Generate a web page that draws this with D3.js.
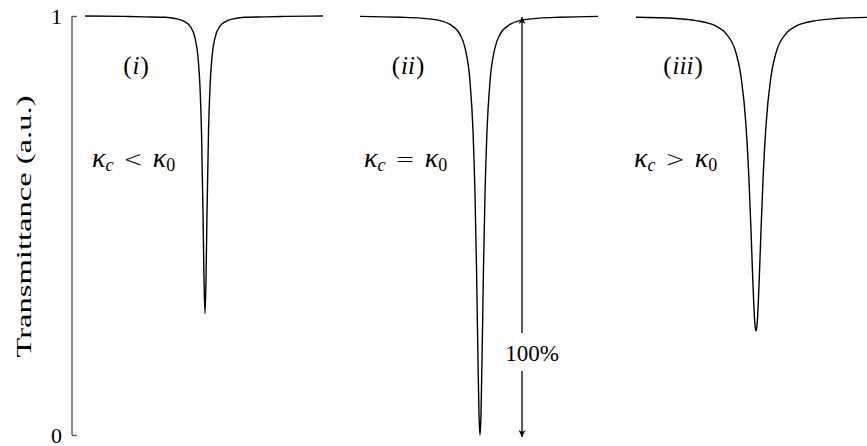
<!DOCTYPE html>
<html>
<head>
<meta charset="utf-8">
<script src="https://cdn.jsdelivr.net/npm/d3@7/dist/d3.min.js"></script>
<style>
  html, body { margin: 0; padding: 0; background: #fff; }
  svg { display: block; }
  text { font-family: "Liberation Serif", "DejaVu Serif", serif; fill: #000; }
</style>
</head>
<body>
<svg id="chart" width="867" height="446"></svg>
<script>
// Detuning from resonance (arbitrary units), shared by the three panels
const detuning = [-12, -8, -6, -4, -3, -2, -1.5, -1, -0.7, -0.5, -0.35, -0.2, -0.1, 0,
                  0.1, 0.2, 0.35, 0.5, 0.7, 1, 1.5, 2, 3, 4, 6, 8, 11.8];

// Transmittance of each coupling regime
const underCoupled = [1.000, 0.999, 0.998, 0.997, 0.994, 0.986, 0.976, 0.948, 0.902, 0.831, 0.723, 0.530, 0.370, 0.290,
                      0.370, 0.530, 0.723, 0.831, 0.902, 0.948, 0.976, 0.986, 0.994, 0.997, 0.998, 0.999, 1.000];
const criticallyCoupled = [0.999, 0.997, 0.995, 0.989, 0.980, 0.956, 0.924, 0.844, 0.726, 0.575, 0.399, 0.178, 0.051, 0.000,
                           0.051, 0.178, 0.399, 0.575, 0.726, 0.844, 0.924, 0.956, 0.980, 0.989, 0.995, 0.997, 0.999];
const overCoupled = [0.997, 0.994, 0.989, 0.976, 0.958, 0.912, 0.856, 0.739, 0.608, 0.488, 0.389, 0.300, 0.262, 0.248,
                     0.262, 0.300, 0.389, 0.488, 0.608, 0.739, 0.856, 0.912, 0.958, 0.976, 0.989, 0.994, 0.997];

const panelLabels = ["i", "ii", "iii"];
const relations = ["<", "=", ">"];
const yTicks = [0, 1];
const depthLabel = "100%";

const svg = d3.select("#chart");

const y = d3.scaleLinear().domain([0, 1]).range([435, 16]);

// Panel placement along the frequency axis
const panelStart = [85, 360, 636];
const panelWidth = 240;
const series = [underCoupled, criticallyCoupled, overCoupled];
const tagX = [136, 408, 683];
const condX = [92, 364, 634];

// Y axis: plain vertical rule with inward ticks at 0 and 1
const axisX = 72;
const yAxis = d3.axisRight(y).tickValues(yTicks).tickSize(5).tickFormat("");
const ag = svg.append("g").attr("transform", `translate(${axisX},0)`).call(yAxis);
ag.select(".domain").attr("d", `M0,${y(1)}V${y(0)}`).attr("stroke", "#5a5a5a").attr("stroke-width", 1.4);
ag.selectAll(".tick line").attr("stroke", "#5a5a5a").attr("stroke-width", 1.4);

svg.selectAll("text.ytick").data(yTicks).join("text")
  .attr("class", "ytick")
  .attr("x", 62).attr("y", d => y(d) + 7.5)
  .attr("text-anchor", "end")
  .attr("font-size", 22)
  .text(d => d);

svg.append("text")
  .attr("transform", `translate(31,${(95 + 358) / 2}) rotate(-90)`)
  .attr("text-anchor", "middle")
  .attr("font-size", 22)
  .attr("textLength", 262)
  .attr("lengthAdjust", "spacingAndGlyphs")
  .text("Transmittance (a.u.)");

// Resonance dips
series.forEach((vals, i) => {
  const x = d3.scaleLinear().domain([-12, 12]).range([panelStart[i], panelStart[i] + panelWidth]);
  const line = d3.line()
    .x((d, k) => x(detuning[k]))
    .y(d => y(d))
    .curve(d3.curveMonotoneX);
  svg.append("path")
    .datum(vals)
    .attr("fill", "none")
    .attr("stroke", "#000")
    .attr("stroke-width", 1.4)
    .attr("stroke-linejoin", "round")
    .attr("d", line);

  // Panel tag, e.g. (ii)
  const tag = svg.append("text")
    .attr("x", tagX[i]).attr("y", 74)
    .attr("text-anchor", "middle")
    .attr("font-size", 25);
  tag.append("tspan").text("(");
  tag.append("tspan").attr("font-style", "italic").attr("dx", 1).text(panelLabels[i]);
  tag.append("tspan").attr("dx", 1).text(")");

  // Coupling condition, e.g. κc < κ0
  const cond = svg.append("text")
    .attr("x", condX[i]).attr("y", 167)
    .attr("font-size", 28);
  cond.append("tspan").attr("font-style", "italic").text("κ");
  cond.append("tspan").attr("font-style", "italic").attr("font-size", 18).attr("dy", 4).text("c");
  cond.append("tspan").attr("dy", -4).attr("dx", 10)
    .attr("font-family", "DejaVu Sans").attr("font-weight", 200).attr("font-size", 23)
    .text(relations[i]);
  cond.append("tspan").attr("font-style", "italic").attr("dx", 10).text("κ");
  cond.append("tspan").attr("font-size", 18).attr("dy", 4).text("0");
});

// Double-headed arrow marking the full extinction depth
const defs = svg.append("defs");
defs.append("marker")
  .attr("id", "head")
  .attr("viewBox", "0 0 10 10")
  .attr("refX", 10).attr("refY", 5)
  .attr("markerWidth", 7).attr("markerHeight", 7)
  .attr("markerUnits", "userSpaceOnUse")
  .attr("orient", "auto")
  .append("path")
  .attr("d", "M0,0 L10,5 L0,10 L3,5 Z")
  .attr("fill", "#000");

const arrowX = 522;
svg.append("line")
  .attr("x1", arrowX).attr("x2", arrowX)
  .attr("y1", 333).attr("y2", y(1) + 1)
  .attr("stroke", "#000").attr("stroke-width", 1.3)
  .attr("marker-end", "url(#head)");
svg.append("line")
  .attr("x1", arrowX).attr("x2", arrowX)
  .attr("y1", 371).attr("y2", y(0) + 2)
  .attr("stroke", "#000").attr("stroke-width", 1.3)
  .attr("marker-end", "url(#head)");
svg.append("text")
  .attr("x", 532).attr("y", 361)
  .attr("text-anchor", "middle")
  .attr("font-size", 23)
  .text(depthLabel);
</script>
</body>
</html>
